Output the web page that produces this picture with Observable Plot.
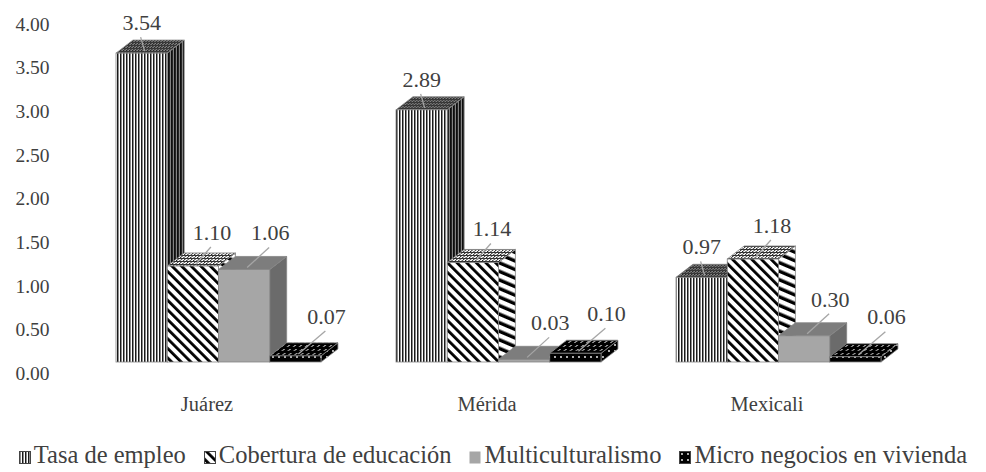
<!DOCTYPE html>
<html><head><meta charset="utf-8">
<script src="https://cdn.jsdelivr.net/npm/d3@7"></script>
<script src="https://cdn.jsdelivr.net/npm/@observablehq/plot@0.6"></script>
<style>
body{margin:0;background:#fff;color:#404040;}
body, div, span, svg, text{font-family:'Liberation Serif', serif;}
#legend{width:986px;text-align:center;font-size:24.5px;line-height:26px;margin-top:17px;white-space:nowrap;}
#legend .item{margin:0 9px;}
#legend svg{vertical-align:-1px;margin-right:3px;}
</style></head><body>
<svg width="0" height="0" style="position:absolute">
<defs>
 <pattern id="p-tasa" patternUnits="userSpaceOnUse" width="3" height="6"><rect width="3" height="6" fill="#fff"/><rect width="1.5" height="6" fill="#1a1a1a"/></pattern>
 <pattern id="p-tasa-side" patternUnits="userSpaceOnUse" width="3" height="6"><rect width="3" height="6" fill="#9a9a9a"/><rect width="1.8" height="6" fill="#111"/></pattern>
 <pattern id="p-tasa-top" patternUnits="userSpaceOnUse" width="3" height="3" patternTransform="skewX(-52.6)"><rect width="3" height="3" fill="#8a8a8a"/><rect width="1.4" height="3" fill="#222"/><rect width="3" height="1" fill="#333"/></pattern>
 <pattern id="p-cob" patternUnits="userSpaceOnUse" width="6.8" height="10" patternTransform="rotate(-45)"><rect width="6.8" height="10" fill="#fff"/><rect width="2.8" height="10" fill="#000"/></pattern>
 <pattern id="p-cob-side" patternUnits="userSpaceOnUse" width="5.5" height="10" patternTransform="skewY(-37.4) rotate(-40)"><rect width="5.5" height="10" fill="#fff"/><rect width="2.4" height="10" fill="#000"/></pattern>
 <pattern id="p-cob-top" patternUnits="userSpaceOnUse" width="3.4" height="3" patternTransform="skewX(-52.6)"><rect width="3.4" height="3" fill="#fff"/><rect width="1.2" height="3" fill="#222"/><rect width="3.4" height="1" fill="#222"/></pattern>
 <pattern id="p-micro" patternUnits="userSpaceOnUse" width="6" height="6"><rect width="6" height="6" fill="#000"/><circle cx="3" cy="3" r="0.9" fill="#fff"/></pattern>
 <pattern id="p-micro-top" patternUnits="userSpaceOnUse" width="6" height="4" patternTransform="skewX(-52.6)"><rect width="6" height="4" fill="#000"/><circle cx="3" cy="2" r="0.8" fill="#fff"/></pattern>
</defs></svg>
<div id="chart"></div>
<div id="legend"></div>
<script>
const cities = ["Juárez", "Mérida", "Mexicali"];
const seriesNames = ["Tasa de empleo", "Cobertura de educación", "Multiculturalismo", "Micro negocios en vivienda"];
const tasaEmpleo = [3.54, 2.89, 0.97];
const coberturaEducacion = [1.10, 1.14, 1.18];
const multiculturalismo = [1.06, 0.03, 0.30];
const microNegocios = [0.07, 0.10, 0.06];
const yTicks = [0, 0.5, 1, 1.5, 2, 2.5, 3, 3.5, 4];

const seriesValues = [tasaEmpleo, coberturaEducacion, multiculturalismo, microNegocios];
const rows = cities.flatMap((c, ci) => seriesNames.map((s, si) => ({city: c, serie: s, si, value: seriesValues[si][ci]})));

const FONT = "'Liberation Serif', serif";
const faces = [
  {front: "url(#p-tasa)", side: "url(#p-tasa-side)", top: "url(#p-tasa-top)", lx: 0, ly: -31},
  {front: "url(#p-cob)", side: "url(#p-cob-side)", top: "url(#p-cob-top)", lx: 19, ly: -34},
  {front: "#a6a6a6", side: "#6b6b6b", top: "#7d7d7d", lx: 26, ly: -37},
  {front: "url(#p-micro)", side: "url(#p-micro)", top: "url(#p-micro-top)", lx: 31, ly: -40}
];
const edge = "#858585";

function render3d(index, scales) {
  const g = d3.create("svg:g");
  const band = typeof scales.x.bandwidth === "function" ? scales.x.bandwidth() : (scales.x(cities[1]) - scales.x(cities[0])) * 0.731;
  const bw = band / seriesNames.length;
  const ddx = bw * 0.33, ddy = -bw * 0.255;
  const y0 = scales.y(0);
  const labels = [];
  const poly = p => "M" + p.map(q => q.join(",")).join("L") + "Z";
  for (const i of index) {
    const d = rows[i];
    const f = faces[d.si];
    const x = scales.x(d.city) + d.si * bw;
    const yv = scales.y(d.value);
    const side = [[x + bw, yv], [x + bw + ddx, yv + ddy], [x + bw + ddx, y0 + ddy], [x + bw, y0]];
    const top = [[x, yv], [x + ddx, yv + ddy], [x + bw + ddx, yv + ddy], [x + bw, yv]];
    g.append("path").attr("d", poly(side)).attr("fill", f.side).attr("stroke", edge).attr("stroke-width", 0.8);
    if (d.si === 0) g.append("path").attr("d", poly(side)).attr("fill", "#000").attr("fill-opacity", 0.15);
    g.append("path").attr("d", poly(top)).attr("fill", f.top).attr("stroke", edge).attr("stroke-width", 0.8);
    g.append("rect").attr("x", x).attr("y", yv).attr("width", bw).attr("height", y0 - yv)
      .attr("fill", f.front).attr("stroke", edge).attr("stroke-width", 0.8);
    labels.push({d, x, yv, lx: x + bw / 2 + f.lx, ly: yv + f.ly, bw});
  }
  for (const L of labels) {
    const sx = L.lx - 1, sy = L.ly + 15, ex = L.x + L.bw / 2 + 3, ey = L.yv - 2;
    if (ey - sy > 6) g.append("line").attr("x1", sx).attr("y1", sy).attr("x2", ex).attr("y2", ey)
      .attr("stroke", "#a6a6a6").attr("stroke-width", 1.3);
  }
  for (const L of labels) {
    g.append("text").attr("x", L.lx).attr("y", L.ly).attr("dy", "0.35em")
      .attr("text-anchor", "middle").attr("font-size", 22).attr("font-family", FONT).attr("fill", "#404040")
      .text(L.d.value.toFixed(2));
  }
  return g.node();
}

const plot = Plot.plot({
  width: 986, height: 425,
  marginLeft: 39.5, marginRight: 29.5, marginTop: 13, marginBottom: 63,
  style: {fontFamily: FONT, fontSize: "19px", color: "#404040", background: "#fff"},
  x: {domain: cities, paddingInner: 0.269, paddingOuter: 0.269, label: null},
  y: {domain: [0, 4], axis: null},
  marks: [
    Plot.axisY(yTicks, {anchor: "left", tickSize: 0, tickPadding: 0, dx: 9.5, tickFormat: d3.format(".2f"), dy: 11, fontSize: 19.5, fontFamily: FONT, label: null}),
    Plot.axisX({anchor: "bottom", tickSize: 0, tickPadding: 34, label: null, fontSize: 20.5, fontFamily: FONT, dx: -12}),
    Plot.barY(rows, {x: "city", y1: 0, y2: "value", render: render3d})
  ]
});
document.getElementById("chart").append(plot);

const swatchFill = ["url(#p-tasa)", "url(#p-cob)", "#a6a6a6", "url(#p-micro)"];
const legend = d3.select("#legend");
seriesNames.forEach((s, si) => {
  const item = legend.append("span").attr("class", "item");
  const sv = item.append("svg").attr("width", 12).attr("height", 13);
  sv.append("rect").attr("x", 0.5).attr("y", 0.5).attr("width", 11).attr("height", 12)
    .attr("fill", swatchFill[si]).attr("stroke", si === 2 ? "none" : "#444");
  item.append("span").text(s);
});
</script>
</body></html>
